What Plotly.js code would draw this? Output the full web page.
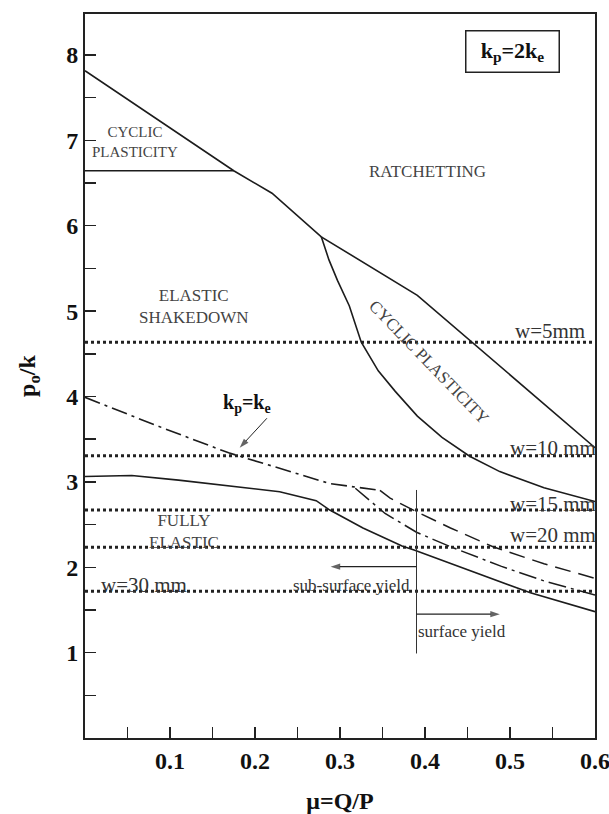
<!DOCTYPE html>
<html>
<head>
<meta charset="utf-8">
<script src="https://cdn.plot.ly/plotly-3.0.1.min.js"></script>
<style>html,body{margin:0;padding:0;background:#fff;}#chart{width:609px;height:814px;}</style>
</head>
<body>
<div id="chart"></div>
<script>
// ---- data ----
// ratchetting boundary (solid)
const muRatchet = [0, 0.175, 0.22, 0.278, 0.391, 0.455, 0.535, 0.6];
const pkRatchet = [7.815, 6.644, 6.381, 5.87, 5.185, 4.635, 3.955, 3.40];
// cyclic plasticity upper-left horizontal boundary
const muCycTop = [0, 0.175];
const pkCycTop = [6.644, 6.644];
// inner cyclic plasticity boundary (solid)
const muCycInner = [0.278, 0.287, 0.297, 0.311, 0.325, 0.345, 0.365, 0.391, 0.42, 0.4525, 0.488, 0.54, 0.6];
const pkCycInner = [5.87, 5.60, 5.36, 5.06, 4.635, 4.30, 4.06, 3.77, 3.52, 3.30, 3.12, 2.93, 2.77];
// fully elastic limit (solid)
const muElastic = [0, 0.055, 0.11, 0.192, 0.229, 0.272, 0.288, 0.327, 0.373, 0.388, 0.445, 0.524, 0.6];
const pkElastic = [3.063, 3.075, 3.02, 2.93, 2.885, 2.78, 2.67, 2.46, 2.25, 2.20, 1.99, 1.70, 1.48];
// kp = ke shakedown limit (dash-dot)
const muKeq = [0, 0.084, 0.169, 0.229, 0.288, 0.347];
const pkKeq = [3.99, 3.66, 3.34, 3.16, 2.98, 2.90];
// continuation (dashed)
const muDashed = [0.347, 0.359, 0.384, 0.43, 0.48, 0.54, 0.6];
const pkDashed = [2.90, 2.81, 2.68, 2.46, 2.24, 2.04, 1.87];
// second dash-dot branch
const muDashDot2 = [0.318, 0.353, 0.39, 0.43, 0.49, 0.543, 0.6];
const pkDashDot2 = [2.925, 2.63, 2.41, 2.24, 2.01, 1.83, 1.676];
// surface / sub-surface yield divider
const muDivider = [0.39, 0.39];
const pkDivider = [0.99, 2.905];
// arrows (tail -> head)
const muArrowSub = [0.39, 0.289];
const pkArrowSub = [2.007, 2.007];
const muArrowSurf = [0.39, 0.488];
const pkArrowSurf = [1.45, 1.45];
const muArrowKeq = [0.214, 0.182];
const pkArrowKeq = [3.745, 3.40];
// width levels (dotted)
const wLabels = ['w=5mm', 'w=10 mm', 'w=15 mm', 'w=20 mm', 'w=30 mm'];
const wLevels = [4.635, 3.306, 2.67, 2.234, 1.72];
const wRange = [0, 0.6];
// ticks
const xTickVals = [0.1, 0.2, 0.3, 0.4, 0.5, 0.6];
const xTickText = ['0.1', '0.2', '0.3', '0.4', '0.5', '0.6'];
const yTickVals = [1, 2, 3, 4, 5, 6, 7, 8];
const yTickText = ['1', '2', '3', '4', '5', '6', '7', '8'];

const serif = 'Liberation Serif, Times New Roman, serif';
const ink = '#1c1c1c';

const traces = [];
wLevels.forEach((lv) => {
  traces.push({x: wRange, y: [lv, lv], mode: 'lines', hoverinfo: 'skip',
    line: {color: '#222', width: 3, dash: '3px,3px'}});
});
function solid(x, y) { return {x: x, y: y, mode: 'lines', line: {color: ink, width: 1.6}}; }
traces.push(solid(muRatchet, pkRatchet));
traces.push(solid(muCycTop, pkCycTop));
traces.push(solid(muCycInner, pkCycInner));
traces.push(solid(muElastic, pkElastic));
traces.push({x: muKeq, y: pkKeq, mode: 'lines', line: {color: ink, width: 1.6, dash: '16px,5px,3px,5px'}});
traces.push({x: muDashed, y: pkDashed, mode: 'lines', line: {color: ink, width: 1.5, dash: '16px,8px'}});
traces.push({x: muDashDot2, y: pkDashDot2, mode: 'lines', line: {color: ink, width: 1.5, dash: '18px,5px,3px,5px'}});
traces.push({x: muDivider, y: pkDivider, mode: 'lines', line: {color: '#333', width: 1}});
function arrow(x, y, w) {
  return {x: x, y: y, mode: 'lines+markers', line: {color: '#222', width: w},
    marker: {symbol: ['circle', 'arrow'], size: [0, 10], angleref: 'previous', color: '#222', line: {width: 0}}};
}
traces.push(arrow(muArrowSub, pkArrowSub, 1.3));
traces.push(arrow(muArrowSurf, pkArrowSurf, 1.3));
traces.push(arrow(muArrowKeq, pkArrowKeq, 1));

const regionFont = {family: serif, size: 17, color: '#444'};
const wFont = {family: serif, size: 21, color: '#333'};
const annotations = [
  {x: 0.0585, y: 6.98, text: 'CYCLIC<br>PLASTICITY', font: {family: serif, size: 15, color: '#444'}},
  {x: 0.403, y: 6.636, text: 'RATCHETTING', font: regionFont},
  {x: 0.128, y: 5.05, text: 'ELASTIC<br>SHAKEDOWN', font: regionFont},
  {x: 0.117, y: 2.42, text: 'FULLY<br>ELASTIC', font: regionFont},
  {x: 0.405, y: 4.40, text: 'CYCLIC PLASTICITY', textangle: 46, font: regionFont},
  {x: 0.5035, y: 8.035, text: 'k<sub>p</sub>=2k<sub>e</sub>', font: {family: serif, size: 22, color: '#111', weight: 'bold'},
    bordercolor: '#222', borderwidth: 1.5, borderpad: 1, width: 90, height: 38},
  {x: 0.191, y: 3.92, text: 'k<sub>p</sub>=k<sub>e</sub>', font: {family: serif, size: 20, color: '#111', weight: 'bold'}},
  {x: 0.3135, y: 1.79, text: 'sub-surface yield', font: {family: serif, size: 17, color: '#333'}},
  {x: 0.4435, y: 1.25, text: 'surface yield', font: {family: serif, size: 17, color: '#333'}},
  {x: 0.591, y: 4.635, text: wLabels[0], xanchor: 'right', yanchor: 'bottom', yshift: -3, font: wFont},
  {x: 0.6, y: 3.306, text: wLabels[1], xanchor: 'right', xshift: 3, yanchor: 'bottom', yshift: -6, font: wFont},
  {x: 0.6, y: 2.67, text: wLabels[2], xanchor: 'right', xshift: 3, yanchor: 'bottom', yshift: -8, font: wFont},
  {x: 0.6, y: 2.234, text: wLabels[3], xanchor: 'right', xshift: 3, yanchor: 'bottom', yshift: -2, font: wFont},
  {x: 0.016, y: 1.72, text: wLabels[4], xanchor: 'left', yanchor: 'bottom', yshift: -8, font: wFont}
].map(a => Object.assign({xref: 'x', yref: 'y', showarrow: false}, a));

const axisCommon = {
  showgrid: false, zeroline: false, showline: true, linewidth: 2, linecolor: '#222', mirror: true,
  ticks: 'inside', ticklen: 11, tickwidth: 1.5, tickcolor: '#222',
  ticklabeloverflow: 'allow',
  tickfont: {family: serif, size: 24, color: '#111', weight: 'bold'}
};

const layout = {
  width: 609, height: 814,
  margin: {l: 85, r: 14, t: 14, b: 76},
  paper_bgcolor: '#fff', plot_bgcolor: '#fff',
  showlegend: false,
  xaxis: Object.assign({}, axisCommon, {
    range: [0, 0.6], tickmode: 'array', tickvals: xTickVals, ticktext: xTickText,
    minor: {dtick: 0.05, tick0: 0, ticks: 'inside', ticklen: 11, tickwidth: 1.5, tickcolor: '#222'},
    title: {text: 'μ=Q/P', font: {family: serif, size: 24, color: '#111', weight: 'bold'}, standoff: 22}
  }),
  yaxis: Object.assign({}, axisCommon, {
    range: [0, 8.48], tickmode: 'array', tickvals: yTickVals, ticktext: yTickText,
    minor: {dtick: 0.5, tick0: 0, ticks: 'inside', ticklen: 11, tickwidth: 1.5, tickcolor: '#222'},
    title: {text: 'p<sub>o</sub>/k', font: {family: serif, size: 24, color: '#111', weight: 'bold'}, standoff: 24}
  }),
  annotations: annotations
};

Plotly.newPlot('chart', traces, layout, {staticPlot: true, displayModeBar: false});
</script>
</body>
</html>
